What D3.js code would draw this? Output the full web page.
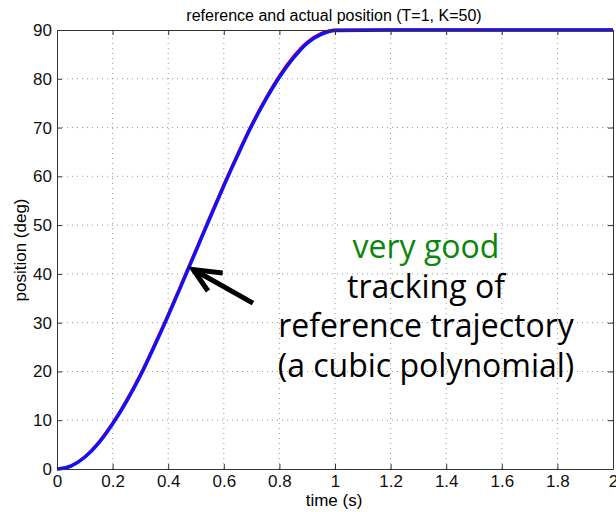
<html>
  <head>
    <style>
    body {
      margin: 0;
      background: #fff;
    }
    text {
      font-family: "Liberation Sans", Arial, sans-serif;
    }
    .grid line {
      stroke: #9a9a9a;
      stroke-dasharray: 1 4;
    }
    </style>
  </head>
  <body>
    <script src="https://d3js.org/d3.v7.min.js"></script>
    <script>
    var width = 616,
      height = 512;

    // values
    var time = [0, 0.05, 0.1, 0.15, 0.2, 0.25, 0.3, 0.35, 0.4, 0.45, 0.5, 0.55, 0.6, 0.65, 0.7,
      0.75, 0.8, 0.85, 0.9, 0.95, 1.0, 1.2, 1.4, 1.6, 1.8, 2.0];
    var reference = [0, 0.65, 2.5, 5.5, 9.4, 14.1, 19.4, 25.4, 31.7, 38.3, 45, 51.7, 58.3, 64.6, 70.6,
      75.9, 80.6, 84.5, 87.5, 89.3, 90, 90, 90, 90, 90, 90];
    var actual = [0, 0.6, 2.4, 5.3, 9.2, 13.8, 19.1, 25.1, 31.4, 38.0, 44.7, 51.4, 58.0, 64.3, 70.3,
      75.6, 80.3, 84.2, 87.3, 89.1, 89.9, 90, 90, 90, 90, 90];
    var xTicks = [0, 0.2, 0.4, 0.6, 0.8, 1, 1.2, 1.4, 1.6, 1.8, 2];
    var yTicks = [0, 10, 20, 30, 40, 50, 60, 70, 80, 90];
    var note = ["very good", "tracking of", "reference trajectory", "(a cubic polynomial)"];

    // arrow in data units: tail, tip, and the two ends of the head
    var arrowShaft = [[0.705, 34.0], [0.49, 40.9]];
    var arrowHead = [[0.596, 40.2], [0.49, 40.9], [0.543, 36.5]];

    var margin = {left: 57, right: 3, top: 30, bottom: 43};

    var svg = d3.select("body").append("svg")
        .attr("width", width)
        .attr("height", height);

    var x = d3.scaleLinear().domain([0, 2]).range([margin.left, width - margin.right]);
    var y = d3.scaleLinear().domain([0, 90]).range([height - margin.bottom, margin.top]);

    //dotted grid
    var grid = svg.append("g").attr("class", "grid");
    grid.selectAll(".gx").data(xTicks.slice(1, -1)).enter().append("line")
      .attr("x1", x).attr("x2", x)
      .attr("y1", y(0)).attr("y2", y(90));
    grid.selectAll(".gy").data(yTicks.slice(1, -1)).enter().append("line")
      .attr("y1", y).attr("y2", y)
      .attr("x1", x(0)).attr("x2", x(2));

    //lines
    var line = d3.line()
      .x(function(d, i){ return x(time[i]); })
      .y(function(d){ return y(d); })
      .curve(d3.curveMonotoneX);

    svg.append("path").datum(reference)
      .attr("d", line)
      .attr("fill", "none")
      .attr("stroke", "#e00000")
      .attr("stroke-width", 3);

    svg.append("path").datum(actual)
      .attr("d", line)
      .attr("fill", "none")
      .attr("stroke", "#1010ff")
      .attr("stroke-width", 3.4);

    //axes, ticks inside on all four sides
    function styleAxis(g){
      g.select(".domain").attr("stroke", "#333");
      g.selectAll(".tick line").attr("stroke", "#333");
      g.selectAll("text").attr("font-size", 17).attr("fill", "#111");
    }
    svg.append("g").attr("transform", "translate(0," + y(0) + ")")
      .call(d3.axisBottom(x).tickValues(xTicks).tickSizeInner(-5).tickSizeOuter(0).tickPadding(6)
        .tickFormat(d3.format("")))
      .call(styleAxis);
    svg.append("g").attr("transform", "translate(0," + y(90) + ")")
      .call(d3.axisTop(x).tickValues(xTicks).tickSizeInner(-5).tickSizeOuter(0).tickFormat(""))
      .call(styleAxis);
    svg.append("g").attr("transform", "translate(" + x(0) + ",0)")
      .call(d3.axisLeft(y).tickValues(yTicks).tickSizeInner(-5).tickSizeOuter(0).tickPadding(5))
      .call(styleAxis);
    svg.append("g").attr("transform", "translate(" + x(2) + ",0)")
      .call(d3.axisRight(y).tickValues(yTicks).tickSizeInner(-5).tickSizeOuter(0).tickFormat(""))
      .call(styleAxis);

    //labels
    svg.append("text")
      .attr("x", 334).attr("y", 21)
      .attr("text-anchor", "middle")
      .attr("font-size", 16)
      .text("reference and actual position (T=1, K=50)");
    svg.append("text")
      .attr("x", 334).attr("y", 506)
      .attr("text-anchor", "middle")
      .attr("font-size", 17)
      .text("time (s)");
    svg.append("text")
      .attr("transform", "translate(26,250) rotate(-90)")
      .attr("text-anchor", "middle")
      .attr("font-size", 17)
      .text("position (deg)");

    //annotation
    svg.append("g").selectAll("text").data(note).enter().append("text")
      .attr("x", 426)
      .attr("y", function(d, i){ return 258 + i * 39.7; })
      .attr("text-anchor", "middle")
      .attr("font-size", 32)
      .style("font-family", "'Open Sans', sans-serif")
      .attr("fill", function(d, i){ return i === 0 ? "#0a860a" : "#000"; })
      .text(function(d){ return d; });

    var pt = d3.line().x(function(d){ return x(d[0]); }).y(function(d){ return y(d[1]); });
    svg.append("path").datum(arrowShaft)
      .attr("d", pt)
      .attr("fill", "none").attr("stroke", "#000").attr("stroke-width", 5);
    svg.append("path").datum(arrowHead)
      .attr("d", pt)
      .attr("fill", "none").attr("stroke", "#000").attr("stroke-width", 5)
      .attr("stroke-linejoin", "miter").attr("stroke-miterlimit", 10);
    </script>
  </body>
</html>
